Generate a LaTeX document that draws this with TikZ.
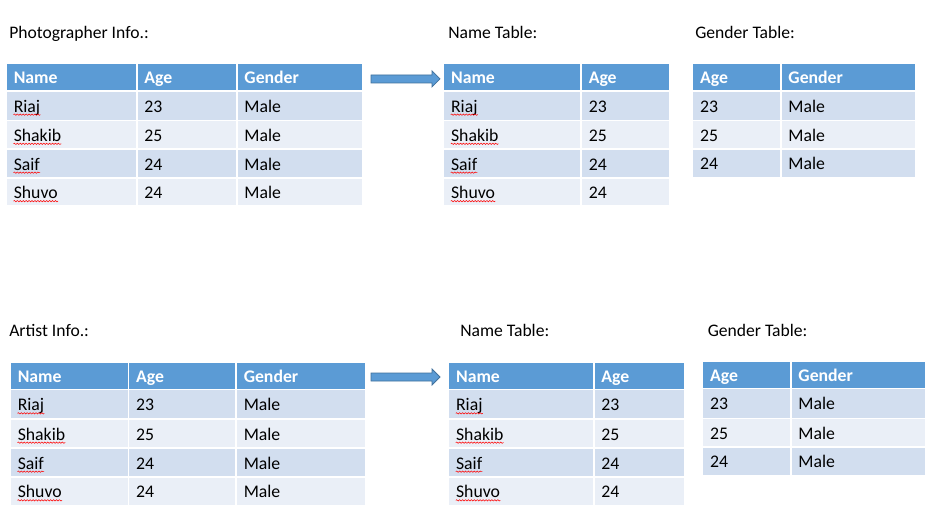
\documentclass[tikz,border=0pt]{standalone}
\usepackage{fontspec}
\setmainfont{Carlito}
\usetikzlibrary{decorations.pathmorphing}
\definecolor{hdr}{HTML}{5B9BD5}
\definecolor{rowa}{HTML}{D2DEEF}
\definecolor{rowb}{HTML}{EAEFF7}
\definecolor{arrline}{HTML}{41719C}
\tikzset{
  celltext/.style={anchor=base west, inner sep=0pt, font=\fontsize{13.3}{15}\selectfont, text=black},
  hdrtext/.style={anchor=base west, inner sep=0pt, font=\fontsize{13.3}{15}\selectfont\bfseries, text=white},
  titletext/.style={anchor=base west, inner sep=0pt, font=\fontsize{13.2}{15}\selectfont, text=black},
  spell/.style={draw=red, line width=0.4pt, decorate, decoration={snake, segment length=2.2pt, amplitude=0.5pt}},
  cellbox/.style={draw=white, line width=1.2pt},
  blockarrow/.style={fill=hdr, draw=arrline, line width=0.6pt},
}
\newcommand\mktbl[5]{%
  \foreach \row [count=\r from 0] in {#5}{
    \foreach \txt [count=\c from 0] in \row {
      \pgfmathsetmacro\xa{{#2}[\c]}
      \pgfmathsetmacro\xb{{#2}[\c+1]}
      \pgfmathsetmacro\ya{{#3}[\r]}
      \pgfmathsetmacro\yb{{#3}[\r+1]}
      \pgfmathsetmacro\ym{(\ya+\yb)/2+6.5}
      \ifnum\r=0
        \path[cellbox, fill=hdr] (\xa,\ya) rectangle (\xb,\yb);
        \node[hdrtext] (#1-\r-\c) at (\xa+7.5,\ym) {\txt};
      \else
        \ifodd\r
          \path[cellbox, fill=rowa] (\xa,\ya) rectangle (\xb,\yb);
        \else
          \path[cellbox, fill=rowb] (\xa,\ya) rectangle (\xb,\yb);
        \fi
        \node[celltext] (#1-\r-\c) at (\xa+7.5,\ym) {\txt};
        \ifnum#4=1 \ifnum\c=0
          \draw[spell] ([yshift=-2pt]#1-\r-\c.base west) -- ([yshift=-2pt]#1-\r-\c.base east);
        \fi\fi
      \fi
    }
  }
}
\begin{document}
\begin{tikzpicture}[x=0.75pt, y=-0.75pt]
\useasboundingbox (0,0) rectangle (933,525);
\fill[white] (0,0) rectangle (933,525);

% titles
\node[titletext] (t1) at (9,38.3) {Photographer Info.:};
\node[titletext] (t2) at (448,38.3) {Name Table:};
\node[titletext] (t3) at (695,38.3) {Gender Table:};
\node[titletext] (t4) at (9,336.3) {Artist Info.:};
\node[titletext] (t5) at (460,336.3) {Name Table:};
\node[titletext] (t6) at (707.5,336.3) {Gender Table:};

% top tables
\mktbl{PA}{6,136.7,236.7,362.7}{63.3,90.7,120.3,149,178,206}{1}%
  {{Name,Age,Gender},{Riaj,23,Male},{Shakib,25,Male},{Saif,24,Male},{Shuvo,24,Male}}
\mktbl{PN}{443.3,581,670}{63.3,90.7,120.3,149,178,206}{1}%
  {{Name,Age},{Riaj,23},{Shakib,25},{Saif,24},{Shuvo,24}}
\mktbl{PG}{692.3,780.7,916}{63.3,90.7,120.3,149,177.7}{0}%
  {{Age,Gender},{23,Male},{25,Male},{24,Male}}

% bottom tables
\mktbl{AA}{10,128.3,236,365.7}{362,389.3,419,448,477,505.3}{1}%
  {{Name,Age,Gender},{Riaj,23,Male},{Shakib,25,Male},{Saif,24,Male},{Shuvo,24,Male}}
\mktbl{AN}{448.3,593.7,684.3}{362,389.3,419,448,477,505.3}{1}%
  {{Name,Age},{Riaj,23},{Shakib,25},{Saif,24},{Shuvo,24}}
\mktbl{AG}{702.3,790.7,926}{361.3,388.3,418.3,447,475.3}{0}%
  {{Age,Gender},{23,Male},{25,Male},{24,Male}}

% block arrows
\coordinate (a1s) at (371,78.9);
\coordinate (a1e) at (440,78.9);
\draw[blockarrow] (a1s) ++(0,-4) -- ++(61,0) -- ++(0,-4) -- (a1e) -- ++(-8,8) -- ++(0,-4) -- ++(-61,0) -- cycle;
\coordinate (a2s) at (371,377);
\coordinate (a2e) at (440,377);
\draw[blockarrow] (a2s) ++(0,-4) -- ++(61,0) -- ++(0,-4) -- (a2e) -- ++(-8,8) -- ++(0,-4) -- ++(-61,0) -- cycle;
\end{tikzpicture}
\end{document}
